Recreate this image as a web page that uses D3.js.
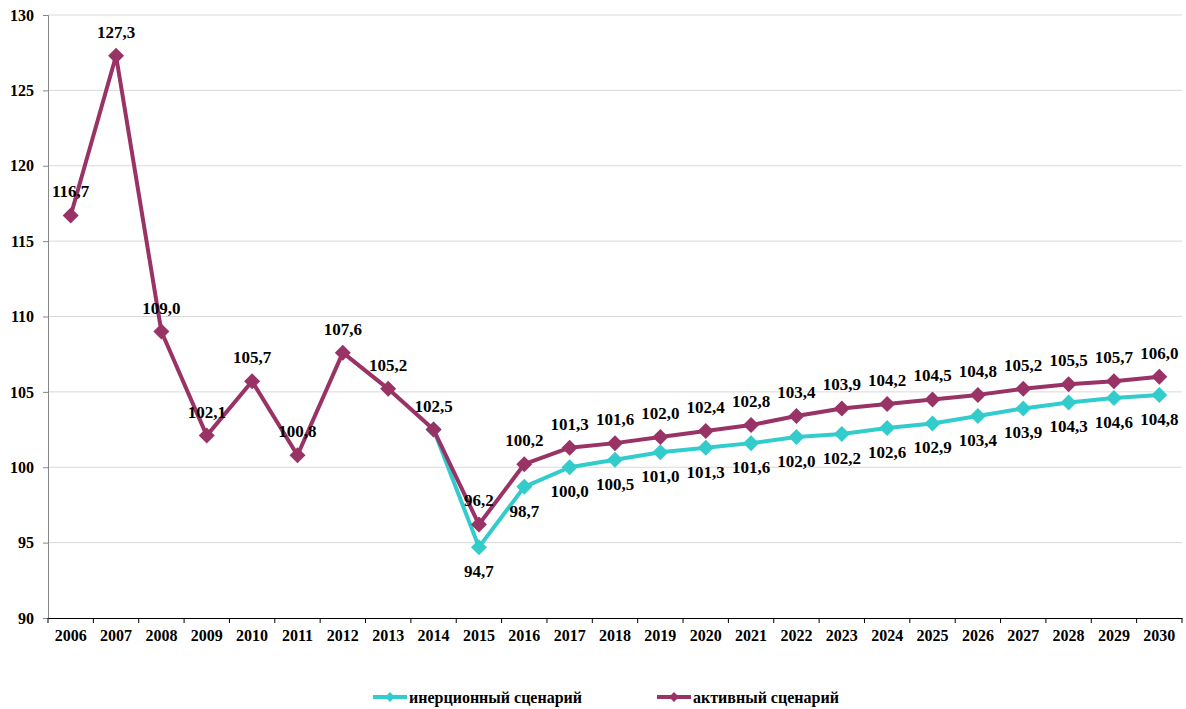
<!DOCTYPE html>
<html><head><meta charset="utf-8">
<script src="https://cdn.jsdelivr.net/npm/d3@7"></script>
<style>
body{margin:0;background:#fff;}
</style></head>
<body>
<svg id="chart" width="1186" height="709"></svg>
<script>
const years = ["2006","2007","2008","2009","2010","2011","2012","2013","2014","2015","2016","2017","2018","2019","2020","2021","2022","2023","2024","2025","2026","2027","2028","2029","2030"];
const activeValues = [116.7,127.3,109.0,102.1,105.7,100.8,107.6,105.2,102.5,96.2,100.2,101.3,101.6,102.0,102.4,102.8,103.4,103.9,104.2,104.5,104.8,105.2,105.5,105.7,106.0];
const inertialValues = [null,null,null,null,null,null,null,null,102.5,94.7,98.7,100.0,100.5,101.0,101.3,101.6,102.0,102.2,102.6,102.9,103.4,103.9,104.3,104.6,104.8];
const yTicks = [90,95,100,105,110,115,120,125,130];
const seriesNames = ["инерционный сценарий","активный сценарий"];
const seriesColors = ["#33CCCC","#993366"];

const FONT = "'Liberation Serif', 'DejaVu Serif', serif";
const svg = d3.select("#chart");
const mLeft = 48, mRight = 1182, mTop = 15, mBottom = 618;
const x = d3.scaleBand().domain(years).range([mLeft, mRight]);
const y = d3.scaleLinear().domain([90,130]).range([mBottom, mTop]);
const cx = d => x(d) + x.bandwidth()/2;
const fmt = v => d3.format(".1f")(v).replace(".", ",");

// gridlines
svg.append("g").selectAll("line").data(yTicks.filter(t => t > 90)).join("line")
  .attr("x1", mLeft).attr("x2", mRight).attr("y1", d => y(d)).attr("y2", d => y(d))
  .attr("stroke", "#d9d9d9").attr("stroke-width", 1);

// y axis
const ya = svg.append("g").attr("transform", `translate(${mLeft},0)`)
  .call(d3.axisLeft(y).tickValues(yTicks).tickSize(5).tickPadding(9).tickFormat(d3.format("d")));
ya.select(".domain").attr("stroke", "#868686");
ya.selectAll(".tick line").attr("stroke", "#868686");

// x axis
const xa = svg.append("g").attr("transform", `translate(0,${mBottom})`)
  .call(d3.axisBottom(x).tickSize(0).tickPadding(12));
xa.select(".domain").attr("stroke", "#000");
svg.append("g").selectAll("line").data(years.map(d => x(d)).concat([mRight])).join("line")
  .attr("x1", d => d).attr("x2", d => d).attr("y1", mBottom).attr("y2", mBottom + 5)
  .attr("stroke", "#000");
[ya, xa].forEach(a => a.attr("font-family", null).attr("font-size", null)
  .selectAll("text").style("font-family", FONT).style("font-weight", "bold").style("font-size", "16px").attr("fill", "#000"));

const diamond = r => `M0,${-r}L${r},0L0,${r}L${-r},0Z`;

function drawSeries(vals, color) {
  const pts = years.map((yr, i) => ({yr, v: vals[i]})).filter(p => p.v != null);
  svg.append("path").datum(pts)
    .attr("fill", "none").attr("stroke", color).attr("stroke-width", 4).attr("stroke-linejoin", "round")
    .attr("d", d3.line().x(p => cx(p.yr)).y(p => y(p.v)));
  svg.append("g").selectAll("path").data(pts).join("path")
    .attr("d", diamond(8)).attr("fill", color)
    .attr("transform", p => `translate(${cx(p.yr)},${y(p.v)})`);
  return pts;
}

const inPts = drawSeries(inertialValues, seriesColors[0]);
const acPts = drawSeries(activeValues, seriesColors[1]);

function styleText(sel, size) {
  sel.style("font-family", FONT).style("font-weight", "bold").style("font-size", size + "px").attr("fill", "#000");
}

// labels
styleText(svg.append("g").selectAll("text").data(acPts).join("text")
  .attr("x", p => cx(p.yr)).attr("y", p => y(p.v) - 24).attr("dy", "0.35em")
  .attr("text-anchor", "middle").text(p => fmt(p.v)), 17);
styleText(svg.append("g").selectAll("text").data(inPts.filter(p => p.yr !== "2014")).join("text")
  .attr("x", p => cx(p.yr)).attr("y", p => y(p.v) + 24).attr("dy", "0.35em")
  .attr("text-anchor", "middle").text(p => fmt(p.v)), 17);

// legend
const legendX = [373, 657];
const lg = svg.append("g");
seriesNames.forEach((name, i) => {
  const g = lg.append("g").attr("transform", `translate(${legendX[i]},697)`);
  g.append("line").attr("x1", 0).attr("x2", 34).attr("y1", 0).attr("y2", 0)
    .attr("stroke", seriesColors[i]).attr("stroke-width", 4);
  g.append("path").attr("d", diamond(5)).attr("fill", seriesColors[i]).attr("transform", "translate(17,0)");
  styleText(g.append("text").attr("x", 36).attr("y", 0).attr("dy", "0.35em").text(name), 16);
});
</script>
</body></html>
